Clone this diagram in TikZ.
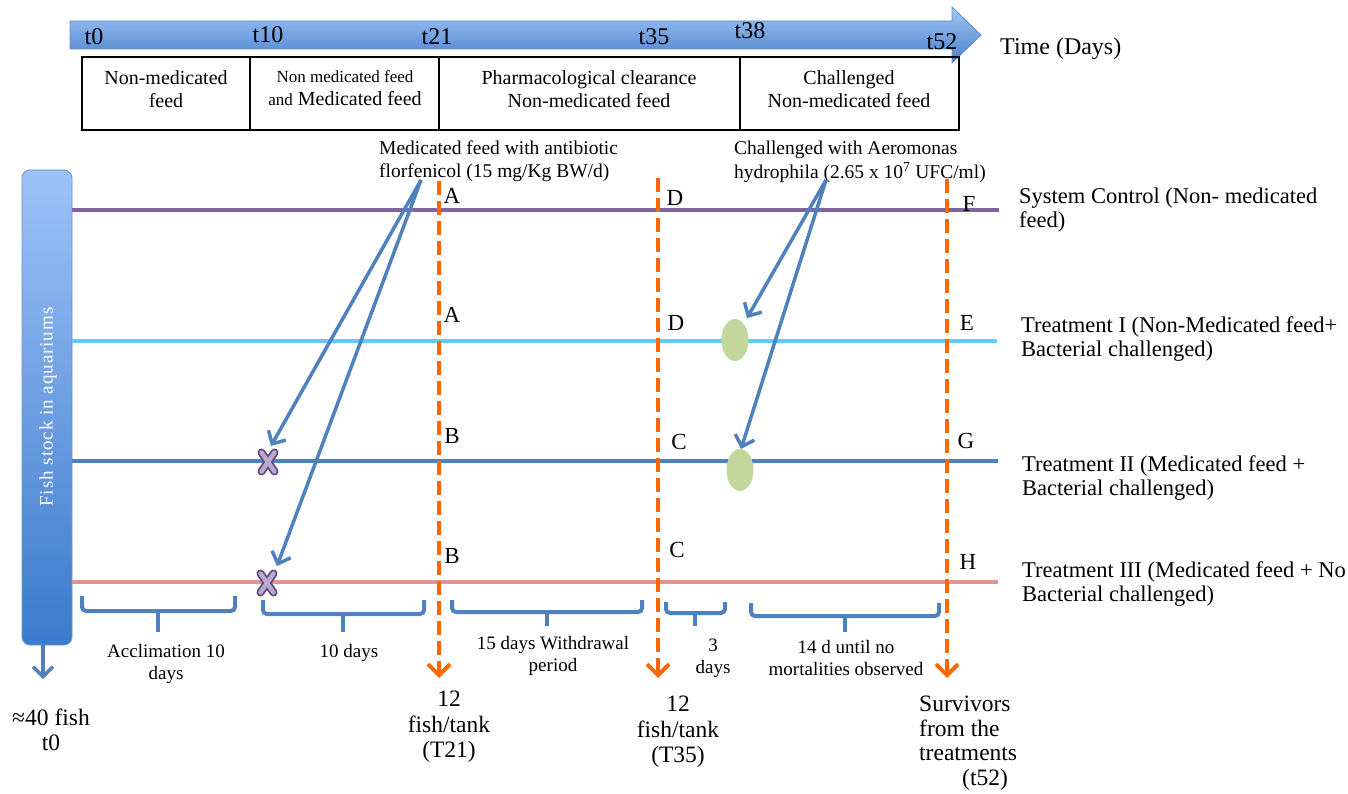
\documentclass[tikz,border=0pt]{standalone}
\usepackage{fontspec}
\setmainfont{Liberation Serif}
\usetikzlibrary{arrows.meta,shapes.geometric}
\definecolor{tltop}{RGB}{160,198,248}
\definecolor{tlbot}{RGB}{74,128,204}
\definecolor{tlline}{RGB}{90,140,205}
\definecolor{bartop}{RGB}{156,194,248}
\definecolor{barbot}{RGB}{60,122,203}
\definecolor{lpurple}{RGB}{128,100,162}
\definecolor{lcyan}{RGB}{100,200,250}
\definecolor{lblue}{RGB}{79,129,189}
\definecolor{lpink}{RGB}{220,150,150}
\definecolor{orng}{RGB}{255,102,0}
\definecolor{egreen}{RGB}{195,214,155}
\definecolor{xdark}{RGB}{95,73,122}
\definecolor{xlav}{RGB}{185,168,210}
\newcommand{\fs}[1]{\fontsize{#1}{#1}\selectfont}
\tikzset{
  hline/.style={line width=4},
  odash/.style={orng, line width=4, dash pattern=on 14 off 6, -{Straight Barb[length=11, width=22, line width=4]}},
  barrow/.style={lblue, line width=3.5, -{Straight Barb[length=10, width=20, line width=3.5]}},
  brace/.style={lblue, line width=4, rounded corners=4},
  lett/.style={font=\fs{23}, inner sep=0},
  rlab/.style={font=\fs{22.5}, anchor=west, align=left, inner sep=0},
  tlab/.style={font=\fs{24}, inner sep=0},
  cell/.style={font=\fs{20}, align=center, inner sep=0},
  blab/.style={font=\fs{19}, align=center, inner sep=0},
  bot/.style={font=\fs{23.5}, align=center, inner sep=0},
  xmark/.pic={
    \draw[line width=8, xdark, line cap=round] (-6.5,-9.5) -- (6.5,9.5) (6.5,-9.5) -- (-6.5,9.5);
    \draw[line width=4.5, xlav, line cap=round] (-6.5,-9.5) -- (6.5,9.5) (6.5,-9.5) -- (-6.5,9.5);
  }
}
\begin{document}
\begin{tikzpicture}[x=1pt, y=-1pt]
\useasboundingbox (0,0) rectangle (1348,794);

% timeline arrow
\shade[top color=tltop, bottom color=tlbot, draw=tlline, line width=0.8]
  (70,21) -- (952,21) -- (952,7) -- (981,35) -- (952,63) -- (952,49) -- (70,49) -- cycle;
\node[tlab] (t0) at (94,37) {t0};
\node[tlab] (t10) at (268,35) {t10};
\node[tlab] (t21) at (437,37) {t21};
\node[tlab] (t35) at (654,37) {t35};
\node[tlab] (t38) at (750,31) {t38};
\node[tlab] (t52) at (942,42) {t52};
\node[font=\fs{24}, anchor=west, inner sep=0] (time) at (1000,49) {Time (Days)};

% table
\draw[line width=1.6] (82,57) rectangle (959,130);
\draw[line width=1.6] (250,57) -- (250,130) (439,57) -- (439,130) (740,57) -- (740,130);
\node[cell] (c1) at (166,89) {Non-medicated\\[3pt]feed};
\node[cell] (c2) at (345,88) {\fs{17}Non medicated feed\\[3pt]{\fs{17}and} Medicated feed};
\node[cell] (c3) at (589,89) {Pharmacological clearance\\[3pt]Non-medicated feed};
\node[cell] (c4) at (849,89) {Challenged\\[3pt]Non-medicated feed};

% fish stock bar
\node[rounded corners=8, minimum width=50, minimum height=475, inner sep=0,
      top color=bartop, bottom color=barbot, draw=lblue!85, line width=0.8] (bar) at (47,407.5) {};
\node[rotate=90, white, font=\fs{19}\addfontfeature{LetterSpace=5}, inner sep=0] (barlab) at (48,407) {Fish stock in aquariums};
\coordinate (barout) at (43,679);
\draw[barrow] (43,645) -- (barout);

% horizontal lines
\coordinate (l1s) at (72,210); \coordinate (l1e) at (999,210);
\coordinate (l2s) at (72,341); \coordinate (l2e) at (997,341);
\coordinate (l3s) at (72,461); \coordinate (l3e) at (998,461);
\coordinate (l4s) at (72,582); \coordinate (l4e) at (998,582);
\draw[hline, lpurple] (l1s) -- (l1e);
\draw[hline, lcyan] (l2s) -- (l2e);
\draw[hline, lblue] (l3s) -- (l3e);
\draw[hline, lpink] (l4s) -- (l4e);

% orange dashed arrows
\coordinate (v1t) at (439,181); \coordinate (v1b) at (439,678);
\coordinate (v2t) at (658,178); \coordinate (v2b) at (658,678);
\coordinate (v3t) at (947,179); \coordinate (v3b) at (947,678);
\draw[odash] (v1t) -- (v1b);
\draw[odash] (v2t) -- (v2b);
\draw[odash] (v3t) -- (v3b);

% letters
\node[lett] (A1) at (452,196) {A};
\node[lett] (D1) at (675,198) {D};
\node[lett] (F1) at (969,204) {F};
\node[lett] (A2) at (452,315) {A};
\node[lett] (D2) at (676,323) {D};
\node[lett] (E2) at (967,323) {E};
\node[lett] (B3) at (452,436) {B};
\node[lett] (C3) at (679,442) {C};
\node[lett] (G3) at (966,441) {G};
\node[lett] (B4) at (452,556) {B};
\node[lett] (C4) at (677,550) {C};
\node[lett] (H4) at (968,562) {H};

% right labels
\node[rlab] (r1) at (1019,210) {System Control (Non- medicated\\[2pt]feed)};
\node[rlab] (r2) at (1021,339) {Treatment I (Non-Medicated feed+\\[2pt]Bacterial challenged)};
\node[rlab] (r3) at (1022,478) {Treatment II (Medicated feed +\\[2pt]Bacterial challenged)};
\node[rlab] (r4) at (1022,584) {Treatment III (Medicated feed + No\\[2pt]Bacterial challenged)};

% annotations
\node[font=\fs{19.5}, anchor=west, align=left, inner sep=0] (med) at (379,161) {Medicated feed with antibiotic\\[3pt]florfenicol (15 mg/Kg BW/d)};
\node[font=\fs{19.5}, anchor=west, align=left, inner sep=0] (chal) at (734,162) {Challenged with Aeromonas\\[3pt]hydrophila (2.65 x 10\textsuperscript{7} UFC/ml)};

% X marks and ellipses
\pic (x1) at (268,462) {xmark};
\pic (x2) at (267,583) {xmark};
\node[ellipse, fill=egreen, minimum width=27, minimum height=42, inner sep=0] (e1) at (735,340) {};
\node[ellipse, fill=egreen, minimum width=27, minimum height=42, inner sep=0] (e2) at (740,470) {};

% blue arrows
\coordinate (m0) at (421,180);
\coordinate (x1tip) at (271,446);
\coordinate (x2tip) at (277,566);
\draw[barrow] (m0) -- (x1tip);
\draw[barrow] (m0) -- (x2tip);
\coordinate (c0) at (826,180);
\coordinate (e1tip) at (747,318);
\coordinate (e2tip) at (741,449);
\draw[barrow] (c0) -- (e1tip);
\draw[barrow] (c0) -- (e2tip);

% braces
\draw[brace] (82,596) -- (82,611) -- (235,611) -- (235,596);
\draw[brace] (158,611) -- (158,632);
\draw[brace] (263,600) -- (263,614) -- (424,614) -- (424,600);
\draw[brace] (343,614) -- (343,632);
\draw[brace] (452,600) -- (452,612) -- (642,612) -- (642,600);
\draw[brace] (547,612) -- (547,626);
\draw[brace] (666,602) -- (666,613) -- (725,613) -- (725,602);
\draw[brace] (695,613) -- (695,626);
\draw[brace] (751,603) -- (751,616) -- (939,616) -- (939,603);
\draw[brace] (845,616) -- (845,632);

% brace labels
\node[blab] (b1) at (166,664) {Acclimation 10\\[3pt]days};
\node[blab] (b2) at (349,653) {10 days};
\node[blab] (b3) at (553,656) {15 days Withdrawal\\[3pt]period};
\node[blab] (b4) at (713,658) {3\\[3pt]days};
\node[blab] (b5) at (846,658) {14 d until no\\[3pt]mortalities observed};

% bottom labels
\node[bot] (o1) at (51,730) {≈40 fish\\[2pt]t0};
\node[bot] (o2) at (449,727) {12\\[2pt]fish/tank\\[2pt](T21)};
\node[bot] (o3) at (678,732) {12\\[2pt]fish/tank\\[2pt](T35)};
\node[bot, align=left, anchor=north west] (o4) at (919,696) {Survivors\\[1pt]from the\\[1pt]treatments\\[1pt]\hspace*{43pt}(t52)};
\end{tikzpicture}
\end{document}
